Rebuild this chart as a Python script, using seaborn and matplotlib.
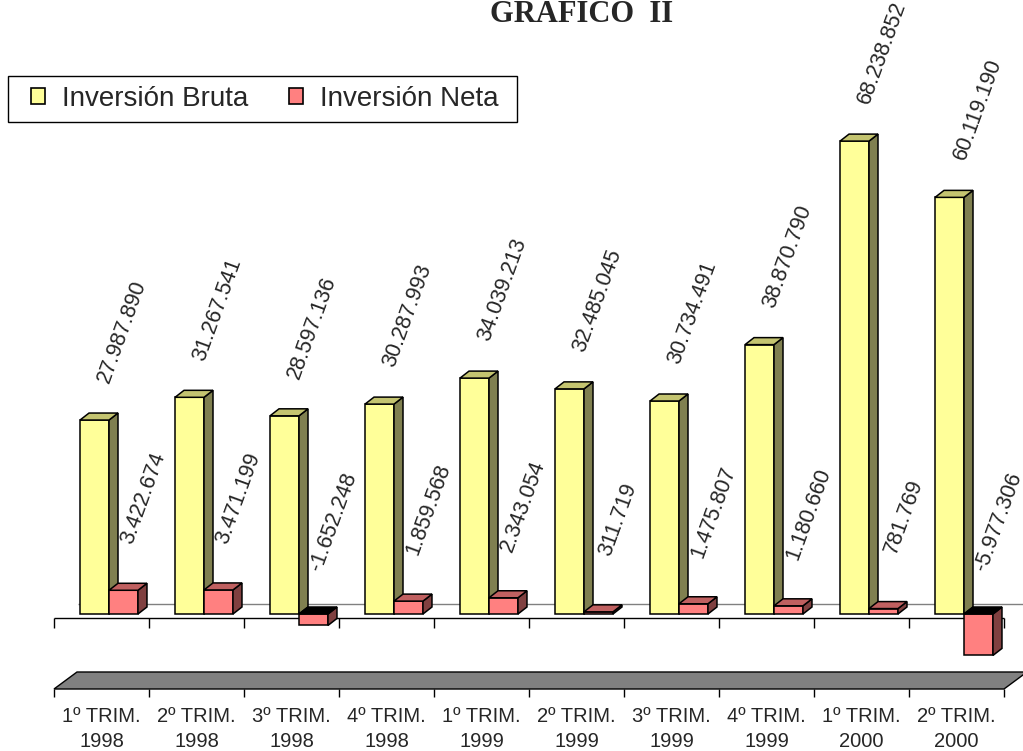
import pandas as pd
import matplotlib.pyplot as plt
from matplotlib.patches import Polygon, Rectangle, Patch
import seaborn as sns

# --- DATOS ---
periodos = ['1º TRIM.\n1998', '2º TRIM.\n1998', '3º TRIM.\n1998', '4º TRIM.\n1998',
            '1º TRIM.\n1999', '2º TRIM.\n1999', '3º TRIM.\n1999', '4º TRIM.\n1999',
            '1º TRIM.\n2000', '2º TRIM.\n2000']
inversion_bruta = [27987890, 31267541, 28597136, 30287993, 34039213,
                   32485045, 30734491, 38870790, 68238852, 60119190]
inversion_neta = [3422674, 3471199, -1652248, 1859568, 2343054,
                  311719, 1475807, 1180660, 781769, -5977306]
series = ['Inversión Bruta', 'Inversión Neta']

# --- ESTILO ---
sns.set_style('white')
plt.rcParams['font.family'] = ['Liberation Sans', 'DejaVu Sans']

W, H = 1023, 751
PX_PER_M = 6.93      # pixeles por millon
ZERO_PX = 614        # linea de cero (frente)
CAT_PX = 95          # ancho de categoria
FIRST_PX = 109       # centro del par de barras de la 1a categoria
DEPTH_X, DEPTH_Y = 9, 7   # profundidad 3D en pixeles

COL = {
    'Inversión Bruta': dict(front='#FFFF99', side='#808050', top='#C4C470'),
    'Inversión Neta': dict(front='#FF8080', side='#804040', top='#C06060'),
}


def dx(px):
    return (px - FIRST_PX) / CAT_PX


def dy(px):
    return (ZERO_PX - px) / PX_PER_M


df = pd.DataFrame({
    'periodo': periodos * 2,
    'serie': [series[0]] * len(periodos) + [series[1]] * len(periodos),
    'valor': inversion_bruta + inversion_neta,
})
df['millones'] = df['valor'] / 1e6

fig = plt.figure(figsize=(W / 100, H / 100), dpi=100)
ax = fig.add_axes([0, 0, 1, 1])

sns.barplot(data=df, x='periodo', y='millones', hue='serie', hue_order=series,
            palette=[COL[s]['front'] for s in series], saturation=1, width=0.61,
            errorbar=None, edgecolor='black', linewidth=1.1, legend=False, ax=ax)

ax.set_xlim(dx(0), dx(W))
ax.set_ylim(dy(H), dy(0))
ax.axis('off')

ddx = DEPTH_X / CAT_PX
ddy = DEPTH_Y / PX_PER_M

# caras laterales y superiores (efecto 3D) + etiquetas
for k, (serie, cont) in enumerate(zip(series, ax.containers)):
    z = 2 + k
    valores = inversion_bruta if k == 0 else inversion_neta
    for bar, v in zip(cont, valores):
        bar.set_zorder(z)
        x0, w = bar.get_x(), bar.get_width()
        y0, h = bar.get_y(), bar.get_height()
        lo, hi = min(y0, y0 + h), max(y0, y0 + h)
        side = Polygon([(x0 + w, lo), (x0 + w + ddx, lo + ddy), (x0 + w + ddx, hi + ddy), (x0 + w, hi)],
                       closed=True, facecolor=COL[serie]['side'], edgecolor='black', lw=1.1, zorder=z)
        top_col = COL[serie]['top'] if v >= 0 else 'black'
        top = Polygon([(x0, hi), (x0 + ddx, hi + ddy), (x0 + w + ddx, hi + ddy), (x0 + w, hi)],
                      closed=True, facecolor=top_col, edgecolor='black', lw=1.1, zorder=z)
        ax.add_patch(side)
        ax.add_patch(top)

        etiqueta = f'{v:,}'.replace(',', '.')
        if k == 0:
            off_x, off_y = 28, 88
        else:
            off_x, off_y = 20, 92
        ax.text(x0 + w / 2 + off_x / CAT_PX, hi + off_y / PX_PER_M, etiqueta,
                rotation=70, rotation_mode='anchor', ha='center', va='center',
                fontsize=15.5, zorder=5)

# linea del fondo
ax.hlines(dy(604), dx(78), dx(W), color='#808080', lw=1, zorder=0.5)

# eje frontal con marcas
bordes = [dx(54 + CAT_PX * i) for i in range(len(periodos) + 1)]
ax.hlines(dy(618), bordes[0], bordes[-1], color='black', lw=1, zorder=1)
ax.vlines(bordes, dy(628), dy(618), color='black', lw=1, zorder=1)

# banda gris del piso
banda = Polygon([(dx(54), dy(689)), (dx(77), dy(672)), (dx(1027), dy(672)), (dx(1004), dy(689))],
                closed=True, facecolor='#808080', edgecolor='black', lw=1, zorder=1)
ax.add_patch(banda)
ax.vlines(bordes, dy(697), dy(689), color='black', lw=1, zorder=1)

for i, p in enumerate(periodos):
    ax.text((bordes[i] + bordes[i + 1]) / 2, dy(729), p, ha='center', va='center',
            fontsize=14.5, linespacing=1.45, multialignment='center')

# titulo
fig.text(582 / W, 1 - 22 / H, 'GRAFICO  II', ha='center', va='baseline',
         fontsize=22, fontweight='bold', family=['Liberation Serif', 'DejaVu Serif'])

# leyenda
marco = Rectangle((8 / W, 1 - 122 / H), 509 / W, 46 / H, transform=fig.transFigure,
                  facecolor='white', edgecolor='black', lw=1, zorder=4)
fig.patches.append(marco)
handles = [Patch(facecolor=COL[s]['front'], edgecolor='black', lw=1.2) for s in series]
leg = fig.legend(handles, series, ncol=2, frameon=False, fontsize=20,
                 handlelength=0.5, handleheight=0.5, handletextpad=0.6, columnspacing=1.5,
                 borderpad=0, borderaxespad=0, loc='center left',
                 bbox_to_anchor=(31 / W, 1 - 99 / H), bbox_transform=fig.transFigure)
leg.set_zorder(6)

plt.savefig('out.png', dpi=100)
